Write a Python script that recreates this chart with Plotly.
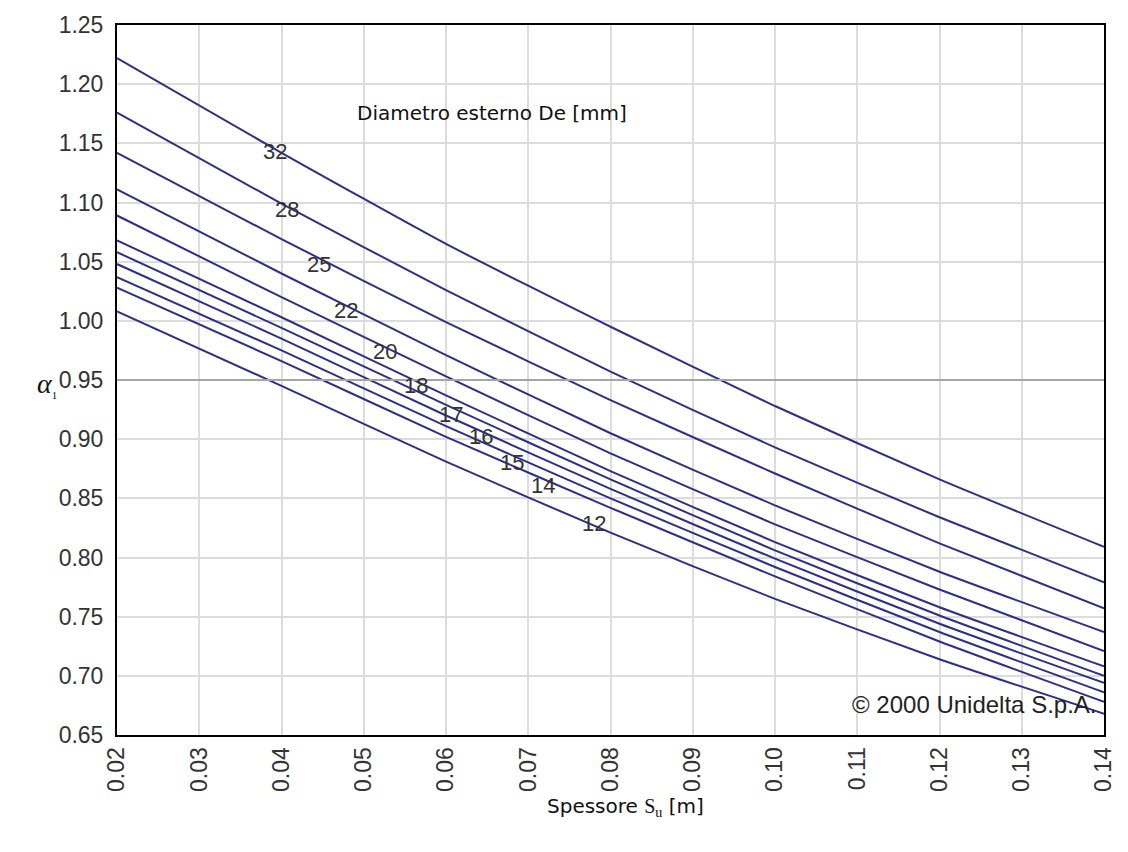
import plotly.graph_objects as go

# Thickness s_u [m]
s_u = [0.02, 0.04, 0.06, 0.08, 0.10, 0.12, 0.14]

# External diameter De [mm] -> alpha_1 values
diameters = [32, 28, 25, 22, 20, 18, 17, 16, 15, 14, 12]
a_32 = [1.222, 1.142, 1.065, 0.995, 0.928, 0.866, 0.809]
a_28 = [1.176, 1.099, 1.026, 0.957, 0.893, 0.834, 0.779]
a_25 = [1.142, 1.069, 0.999, 0.933, 0.871, 0.812, 0.757]
a_22 = [1.111, 1.040, 0.971, 0.905, 0.844, 0.788, 0.737]
a_20 = [1.089, 1.020, 0.953, 0.888, 0.828, 0.773, 0.721]
a_18 = [1.068, 1.003, 0.937, 0.873, 0.813, 0.758, 0.708]
a_17 = [1.058, 0.994, 0.929, 0.866, 0.806, 0.751, 0.700]
a_16 = [1.048, 0.985, 0.920, 0.858, 0.799, 0.744, 0.694]
a_15 = [1.037, 0.975, 0.911, 0.850, 0.792, 0.737, 0.686]
a_14 = [1.028, 0.966, 0.902, 0.842, 0.784, 0.729, 0.678]
a_12 = [1.008, 0.945, 0.881, 0.821, 0.765, 0.714, 0.668]
series = [a_32, a_28, a_25, a_22, a_20, a_18, a_17, a_16, a_15, a_14, a_12]

# Curve label anchor points (data coords)
label_x = [0.0392, 0.0407, 0.0446, 0.0479, 0.0526, 0.0564, 0.0606, 0.0642, 0.0680, 0.0718, 0.0780]
label_y = [1.143, 1.094, 1.048, 1.009, 0.974, 0.945, 0.921, 0.902, 0.880, 0.861, 0.829]

x_ticks = [0.02, 0.03, 0.04, 0.05, 0.06, 0.07, 0.08, 0.09, 0.10, 0.11, 0.12, 0.13, 0.14]
y_ticks = [0.65, 0.70, 0.75, 0.80, 0.85, 0.90, 0.95, 1.00, 1.05, 1.10, 1.15, 1.20, 1.25]
ref_line = 0.95

LINE_COLOR = "#2e2e8c"
TEXT_COLOR = "#333333"
SANS = "Liberation Sans, Arial, sans-serif"

fig = go.Figure()
for d, vals in zip(diameters, series):
    fig.add_trace(go.Scatter(x=s_u, y=vals, mode="lines", name=str(d),
                             line=dict(color=LINE_COLOR, width=2, shape="spline", smoothing=0.5),
                             showlegend=False, hoverinfo="x+y+name"))

annotations = []
for d, lx, ly in zip(diameters, label_x, label_y):
    annotations.append(dict(x=lx, y=ly, xref="x", yref="y", text=str(d), showarrow=False,
                            font=dict(family=SANS, size=22, color=TEXT_COLOR),
                            xanchor="center", yanchor="middle"))

annotations.append(dict(x=0.0489, y=1.176, xref="x", yref="y", text="Diametro esterno De [mm]",
                        showarrow=False, xanchor="left", yanchor="middle",
                        font=dict(family="DejaVu Sans", size=20, color="#111111")))
annotations.append(dict(x=0.1394, y=0.6755, xref="x", yref="y", text="© 2000 Unidelta S.p.A.",
                        showarrow=False, xanchor="right", yanchor="middle",
                        font=dict(family=SANS, size=24, color="#222222")))
annotations.append(dict(x=0.5, y=0, xref="paper", yref="paper", yshift=-72, xshift=15,
                        text="Spessore <span style='font-family:Liberation Serif'>S<sub>u</sub></span> [m]",
                        showarrow=False, xanchor="center", yanchor="middle",
                        font=dict(family="DejaVu Sans", size=20, color="#111111")))
annotations.append(dict(x=-0.059, y=0.493, xref="paper", yref="paper",
                        text="<i>α</i><sub><span style='font-size:11px'>1</span></sub>",
                        showarrow=False, xanchor="right", yanchor="middle",
                        font=dict(family="Liberation Serif, DejaVu Serif, serif", size=28, color="#111111")))

fig.add_shape(type="line", xref="paper", x0=0, x1=1, yref="y", y0=ref_line, y1=ref_line,
              line=dict(color="#a5a5a5", width=2), layer="above")

fig.update_layout(
    width=1128, height=852,
    margin=dict(l=117, r=13, t=19, b=117),
    paper_bgcolor="white", plot_bgcolor="white",
    annotations=annotations,
    xaxis=dict(range=[0.02, 0.14], tickvals=x_ticks, tickformat=".2f", tickangle=-90,
               showgrid=True, gridcolor="#dcdcdc", gridwidth=1.5,
               showline=True, linecolor="black", linewidth=2, mirror=True,
               ticks="", ticklabelstandoff=1, zeroline=False,
               tickfont=dict(family=SANS, size=23, color=TEXT_COLOR)),
    yaxis=dict(range=[0.65, 1.25], tickvals=y_ticks, tickformat=".2f",
               showgrid=True, gridcolor="#dcdcdc", gridwidth=1.5,
               showline=True, linecolor="black", linewidth=2, mirror=True,
               ticks="", ticklabelstandoff=7, zeroline=False,
               tickfont=dict(family=SANS, size=23, color=TEXT_COLOR)),
)

fig.write_html("out.html")
